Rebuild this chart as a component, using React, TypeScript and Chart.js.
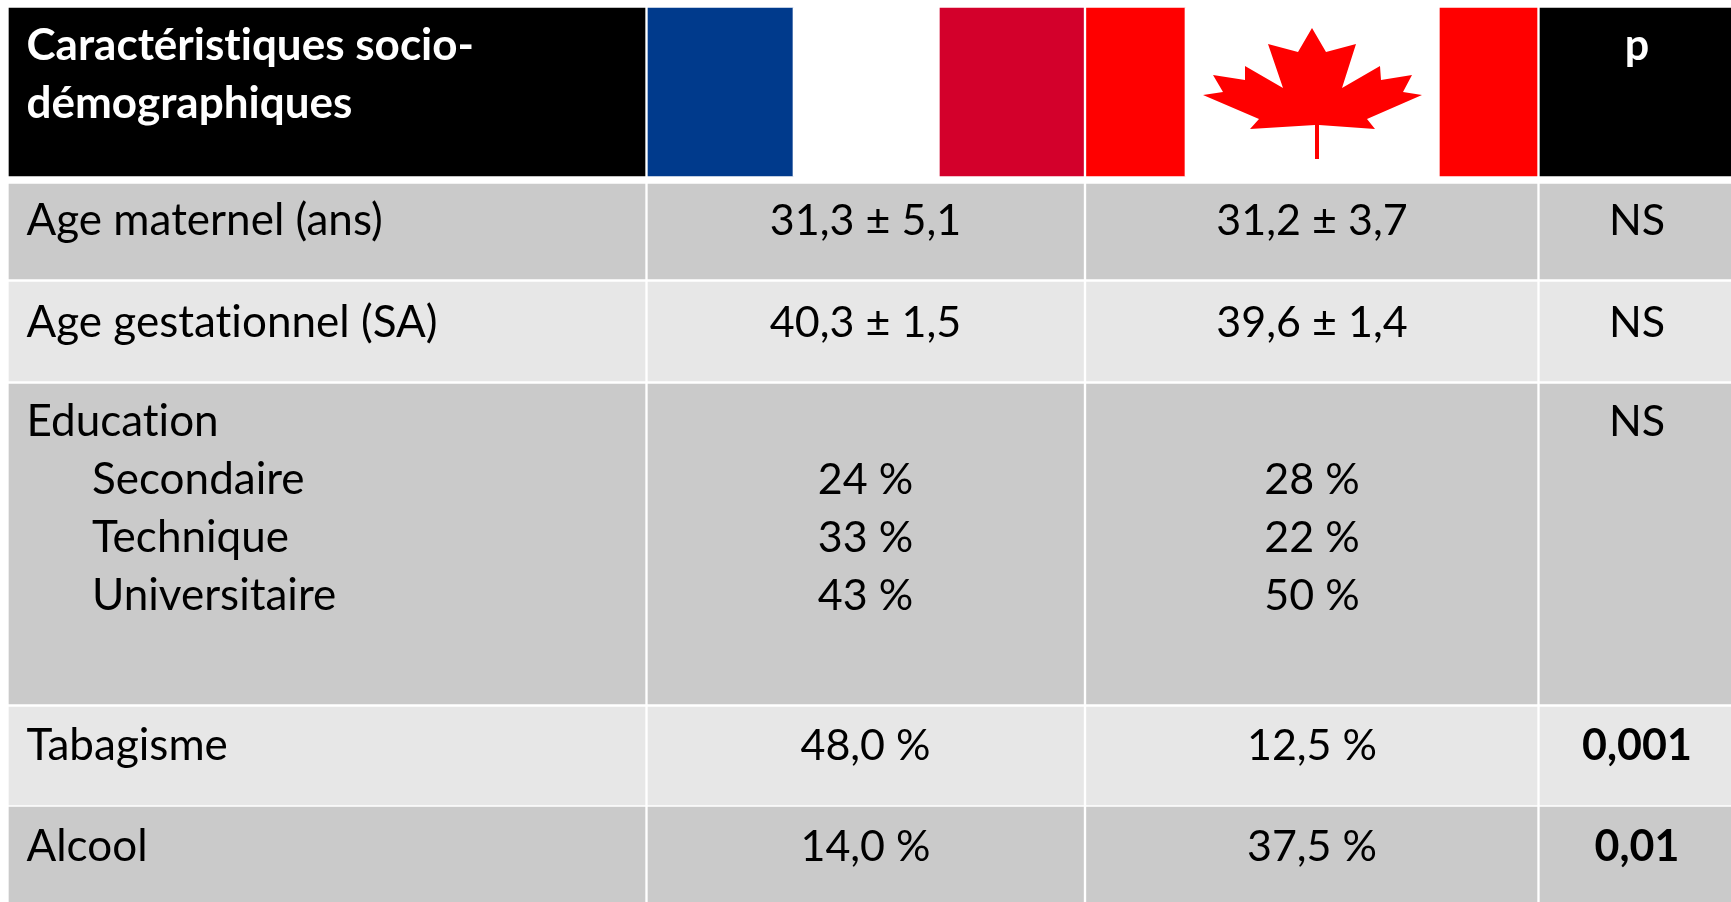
import React, { useEffect, useRef } from "react";
import { Chart, registerables } from "chart.js";

Chart.register(...registerables);

// ---- table content ----
const headerLines = ["Caractéristiques socio-", "démographiques"];
const pHeader = "p";
const rowLabels = ["Age maternel (ans)", "Age gestationnel (SA)", "Education", "Tabagisme", "Alcool"];
const subLabels = ["Secondaire", "Technique", "Universitaire"];
const franceValues = ["31,3 ± 5,1", "40,3 ± 1,5", "", "48,0 %", "14,0 %"];
const canadaValues = ["31,2 ± 3,7", "39,6 ± 1,4", "", "12,5 %", "37,5 %"];
const franceEducation = ["24 %", "33 %", "43 %"];
const canadaEducation = ["28 %", "22 %", "50 %"];
const pValues = ["NS", "NS", "NS", "0,001", "0,01"];
const pBold = [false, false, false, true, true];

// ---- layout, in scale units (the scales span the page) ----
const colEdges: [number, number][] = [[9, 645], [648, 1083.5], [1086.5, 1537], [1540, 1731]];
const rowEdges: [number, number][] = [[184, 279], [282, 381], [384, 704], [707, 805], [807, 902]];
const rowFills = ["#cacaca", "#e7e7e7", "#cacaca", "#e7e7e7", "#cacaca"];
const headerEdges: [number, number] = [8, 176];
const headerStripes: { x: [number, number]; color: string }[] = [
  { x: [9, 645], color: "#000000" },
  { x: [648, 793], color: "#003a8c" },
  { x: [793, 940], color: "#ffffff" },
  { x: [940, 1083.5], color: "#d3002b" },
  { x: [1086.5, 1185], color: "#ff0000" },
  { x: [1185, 1440], color: "#ffffff" },
  { x: [1440, 1537], color: "#ff0000" },
  { x: [1540, 1731], color: "#000000" },
];
const leafOutline: [number, number][] = [
  [1312, 28], [1326, 52], [1356, 44], [1342, 88], [1380, 66], [1381, 80], [1412, 75], [1403, 92],
  [1422, 95], [1367, 119], [1375, 129], [1319, 125], [1319, 159], [1315, 159], [1315, 125],
  [1250, 129], [1259, 119], [1203, 95], [1223, 92], [1213, 75], [1245, 80], [1245, 66], [1283, 88],
  [1268, 44], [1298, 52],
];

const labelX = 26.5;
const indentX = 92;
const centers = [865.5, 1312, 1637];
const rowBaselines = [235, 336.5, 436, 759.5, 860.5];
const subBaselines = [494, 552, 610];
const headerBaselines = [59.5, 117.5];
const FAMILY = "Lato, Carlito, sans-serif";
const LABEL_SIZE = 44;
const VALUE_SIZE = 43;

const tablePlugin = {
  id: "tableText",
  afterDatasetsDraw(chart: any) {
    const { ctx, scales } = chart;
    const px = (v: number) => scales.x.getPixelForValue(v);
    const py = (v: number) => scales.y.getPixelForValue(v);
    ctx.save();
    ctx.fillStyle = "#ff0000";
    ctx.beginPath();
    leafOutline.forEach(([x, y], i) => (i ? ctx.lineTo(px(x), py(y)) : ctx.moveTo(px(x), py(y))));
    ctx.closePath();
    ctx.fill();

    const put = (t: string, x: number, y: number, align: CanvasTextAlign, bold: boolean, color: string) => {
      const size = align === "center" ? VALUE_SIZE : LABEL_SIZE;
      ctx.font = `${bold ? "700" : "400"} ${size}px ${FAMILY}`;
      ctx.letterSpacing = "0.01px";
      ctx.textAlign = align;
      ctx.textBaseline = "alphabetic";
      ctx.fillStyle = color;
      ctx.fillText(t, px(x), py(y));
    };
    headerLines.forEach((t, i) => put(t, labelX, headerBaselines[i], "left", true, "#ffffff"));
    put(pHeader, centers[2], headerBaselines[0], "center", true, "#ffffff");
    rowLabels.forEach((t, i) => {
      put(t, labelX, rowBaselines[i], "left", false, "#000000");
      put(franceValues[i], centers[0], rowBaselines[i], "center", false, "#000000");
      put(canadaValues[i], centers[1], rowBaselines[i], "center", false, "#000000");
      put(pValues[i], centers[2], rowBaselines[i], "center", pBold[i], "#000000");
    });
    subLabels.forEach((t, i) => {
      put(t, indentX, subBaselines[i], "left", false, "#000000");
      put(franceEducation[i], centers[0], subBaselines[i], "center", false, "#000000");
      put(canadaEducation[i], centers[1], subBaselines[i], "center", false, "#000000");
    });
    ctx.restore();
  },
};

export default function App() {
  const ref = useRef<HTMLCanvasElement>(null);
  useEffect(() => {
    const band = (edges: [number, number]) => ({ y: (edges[0] + edges[1]) / 2, t: edges[1] - edges[0] });
    const head = band(headerEdges);
    const datasets: any[] = [
      {
        label: "En-tête",
        data: headerStripes.map((s) => ({ x: s.x, y: head.y })),
        backgroundColor: headerStripes.map((s) => s.color),
        barThickness: head.t,
        grouped: false,
        borderWidth: 0,
      },
      ...rowEdges.map((edges, i) => {
        const b = band(edges);
        return {
          label: rowLabels[i],
          data: colEdges.map((c) => ({ x: c, y: b.y })),
          backgroundColor: rowFills[i],
          barThickness: b.t,
          grouped: false,
          borderWidth: 0,
        };
      }),
    ];
    const chart = new Chart(ref.current!, {
      type: "bar",
      data: { datasets },
      options: {
        indexAxis: "y",
        responsive: false,
        animation: false,
        layout: { padding: 0 },
        plugins: { legend: { display: false }, tooltip: { enabled: false }, title: { display: false } },
        scales: {
          x: { type: "linear", min: 0, max: 1731, display: false, offset: false },
          y: { type: "linear", min: 0, max: 902, reverse: true, display: false, offset: false },
        },
      },
      plugins: [tablePlugin],
    } as any);
    return () => chart.destroy();
  }, []);
  return (
    <div style={{ position: "fixed", left: 0, top: 0, width: 1731, height: 902, background: "#ffffff" }}>
      <canvas ref={ref} width={1731} height={902} style={{ display: "block" }} />
    </div>
  );
}
